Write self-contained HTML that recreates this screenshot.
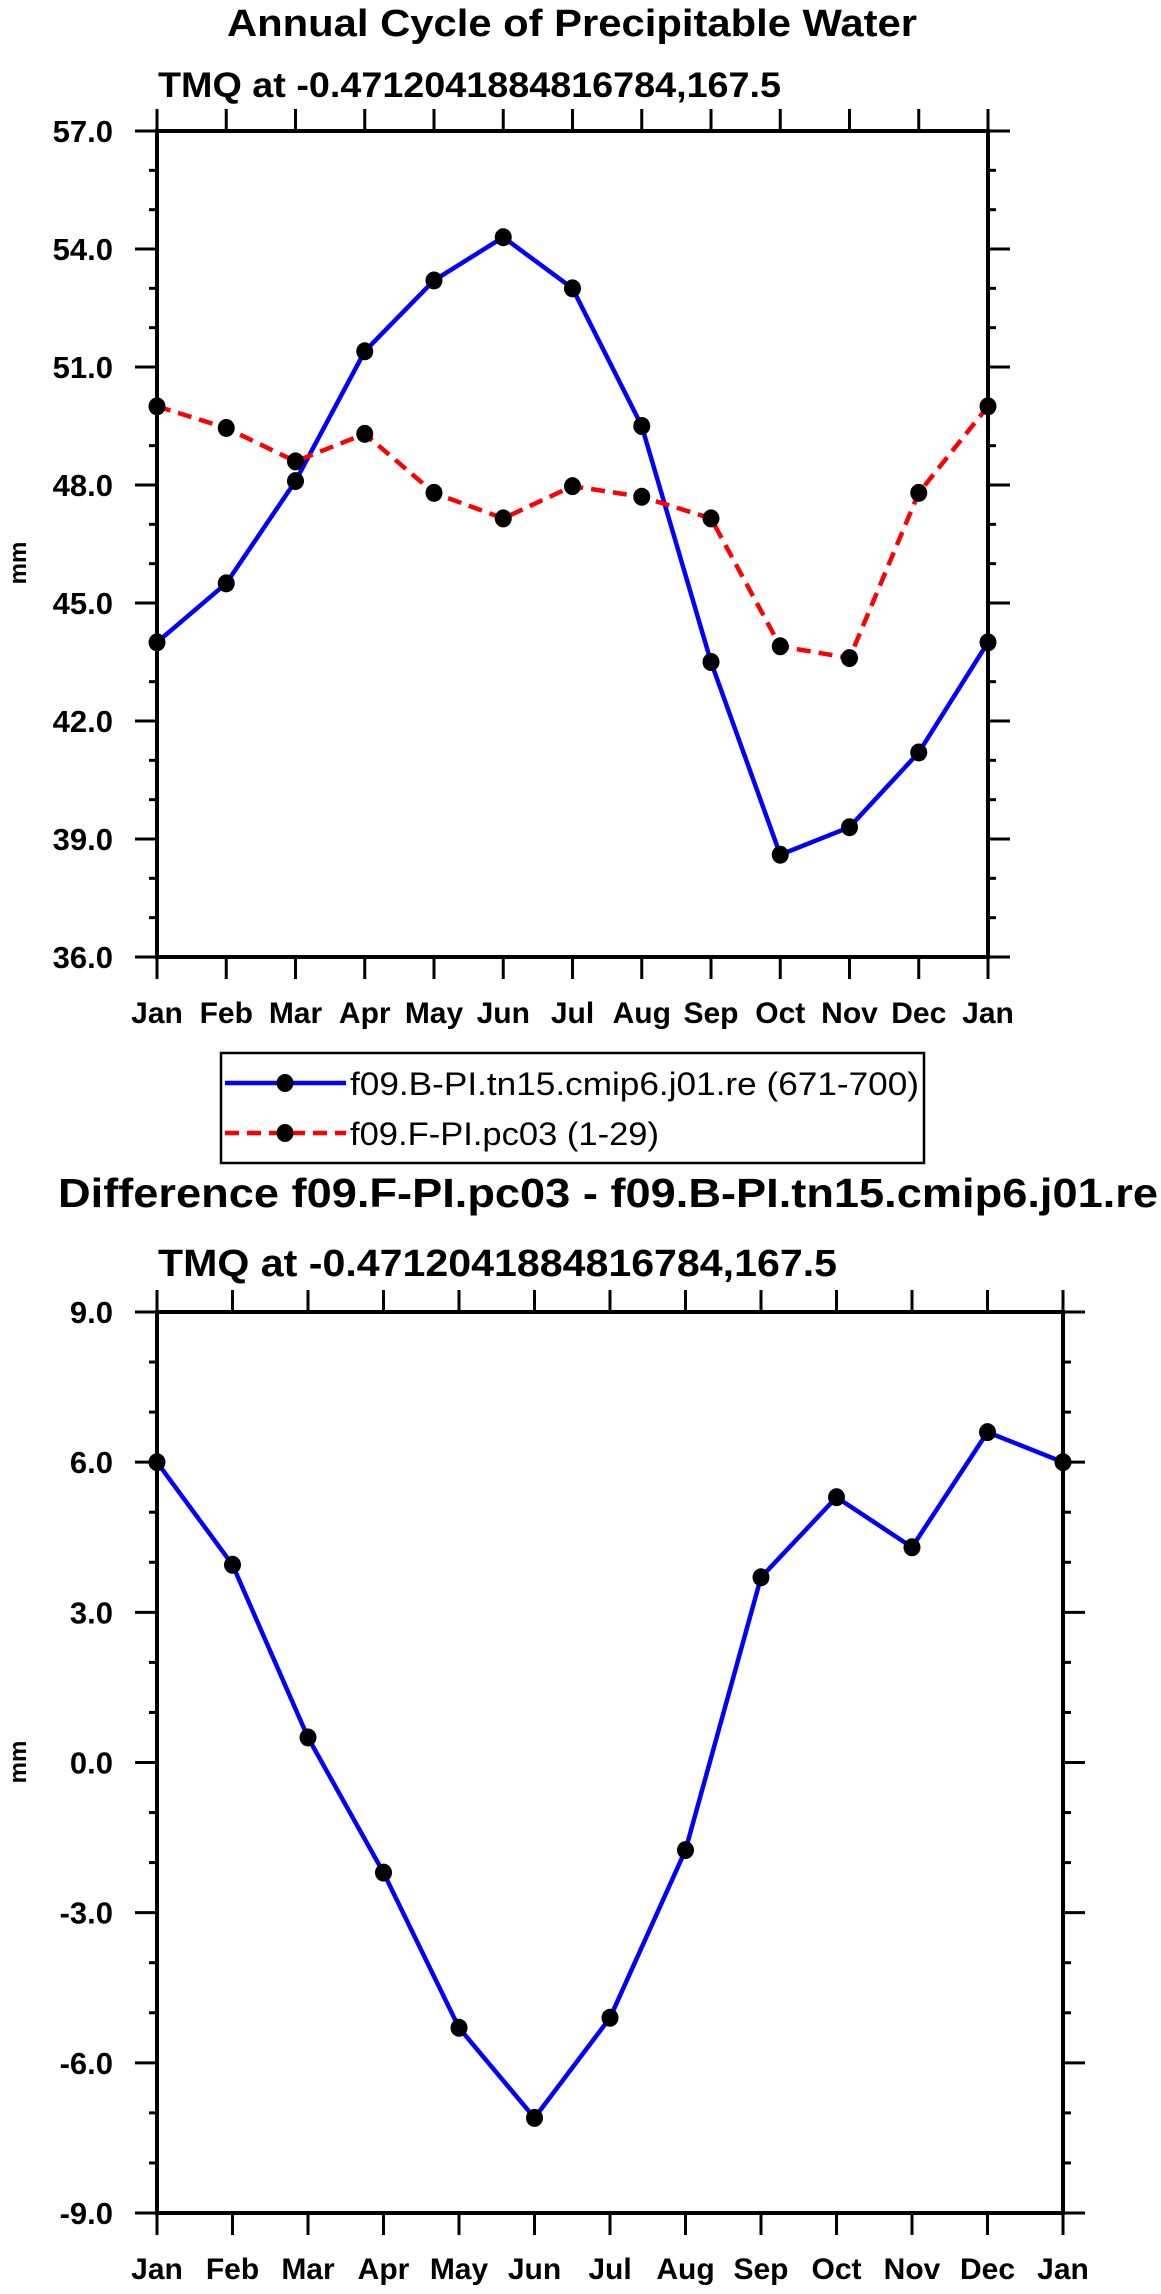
<!DOCTYPE html>
<html><head><meta charset="utf-8"><style>
html,body{margin:0;padding:0;background:#fff;}
svg{display:block;font-family:"Liberation Sans",Arial,sans-serif;}
</style></head><body>
<svg id="s" width="1161" height="2294" viewBox="0 0 1161 2294" xmlns="http://www.w3.org/2000/svg">
<text x="572" y="36" text-anchor="middle" font-size="38" font-weight="bold" textLength="690" lengthAdjust="spacingAndGlyphs">Annual Cycle of Precipitable Water</text>
<text x="158" y="97" font-size="35" font-weight="bold" textLength="623" lengthAdjust="spacingAndGlyphs">TMQ at -0.4712041884816784,167.5</text>
<text x="58" y="1207" font-size="41" font-weight="bold" textLength="1100" lengthAdjust="spacingAndGlyphs">Difference f09.F-PI.pc03 - f09.B-PI.tn15.cmip6.j01.re</text>
<text x="158" y="1276" font-size="38" font-weight="bold" textLength="679" lengthAdjust="spacingAndGlyphs">TMQ at -0.4712041884816784,167.5</text>
<g>
<rect x="221" y="1053" width="703" height="110" fill="none" stroke="#000" stroke-width="2.5"/>
<g>
<line x1="225" y1="1083" x2="346" y2="1083" stroke="#0000ff" stroke-width="4.5"/>
<ellipse cx="285" cy="1083" rx="8.5" ry="9" fill="#000"/>
<text x="350" y="1095" font-size="32" textLength="569" lengthAdjust="spacingAndGlyphs">f09.B-PI.tn15.cmip6.j01.re (671-700)</text>
</g>
<g>
<line x1="225" y1="1133" x2="346" y2="1133" stroke="#ff0000" stroke-width="4.5" stroke-dasharray="14,8"/>
<ellipse cx="285" cy="1133" rx="8.5" ry="9" fill="#000"/>
<text x="350" y="1145" font-size="32" textLength="309" lengthAdjust="spacingAndGlyphs">f09.F-PI.pc03 (1-29)</text>
</g>
</g>
</svg>
<script>
const months = ["Jan","Feb","Mar","Apr","May","Jun","Jul","Aug","Sep","Oct","Nov","Dec","Jan"];
const seriesB = [44.0,45.5,48.1,51.4,53.2,54.3,53.0,49.5,43.5,38.6,39.3,41.2,44.0];
const seriesF = [50.0,49.45,48.6,49.3,47.8,47.15,47.97,47.7,47.15,43.9,43.6,47.8,50.0];
const seriesDiff = [6.0,3.95,0.5,-2.2,-5.3,-7.1,-5.1,-1.75,3.7,5.3,4.3,6.6,6.0];
const topTicks = ["57.0","54.0","51.0","48.0","45.0","42.0","39.0","36.0"];
const botTicks = ["9.0","6.0","3.0","0.0","-3.0","-6.0","-9.0"];

const NS = "http://www.w3.org/2000/svg";
const svg = document.getElementById("s");
function mk(tag, attrs, parent){const e=document.createElementNS(NS,tag);for(const k in attrs)e.setAttribute(k,attrs[k]);(parent||svg).appendChild(e);return e;}

function panel(name, L, R, T, B, ymin, ymax, ticks, series, labelY){
  const g = mk("g",{});
  
  
  const xs = i => L + (R-L)*i/(months.length-1);
  const ys = v => B - (B-T)*(v-ymin)/(ymax-ymin);
  months.forEach((m,i)=>{
    const x = xs(i);
    mk("line",{x1:x,y1:T,x2:x,y2:T-22,stroke:"#000","stroke-width":3},g);
    mk("line",{x1:x,y1:B,x2:x,y2:B+22,stroke:"#000","stroke-width":3},g);
    const t = mk("text",{x:x,y:B+66,"text-anchor":"middle","font-size":30,"font-weight":"bold"},g);
    t.textContent = m;
    
    
  });
  for(let v=ymin; v<=ymax+1e-9; v+=1){
    const y = ys(v);
    const major = Math.abs((v-ymin)%3)<1e-9;
    const len = major?22:8;
    mk("line",{x1:L,y1:y,x2:L-len,y2:y,stroke:"#000","stroke-width":3},g);
    mk("line",{x1:R,y1:y,x2:R+len,y2:y,stroke:"#000","stroke-width":3},g);
  }
  const fr = mk("rect",{x:L,y:T,width:R-L,height:B-T,fill:"none",stroke:"#000","stroke-width":4},g);
  
  
  ticks.forEach(lbl=>{
    const y = ys(parseFloat(lbl));
    const t = mk("text",{x:L-44,y:y+11,"text-anchor":"end","font-size":31,"font-weight":"bold"},g);
    t.textContent = lbl;
    
    
  });
  const yl = mk("text",{x:0,y:0,"text-anchor":"middle","font-size":24,"font-weight":"bold",transform:`translate(26,${labelY}) rotate(-90)`},g);
  yl.textContent = "mm";
  
  
  series.forEach(s=>{
    const pts = s.data.map((v,i)=>xs(i)+","+ys(v)).join(" ");
    const pl = mk("polyline",{points:pts,fill:"none",stroke:s.color,"stroke-width":4.5,"stroke-dasharray":s.dash||"none","stroke-linejoin":"round"},g);
    
    
    s.data.forEach((v,i)=>{
      const c = mk("ellipse",{cx:xs(i),cy:ys(v),rx:8.5,ry:9,fill:"#000"},g);
      
      
    });
  });
}
panel("top-plot",157,988,131,957,36,57,topTicks,[
  {name:"series-b",data:seriesB,color:"#0000ff"},
  {name:"series-f",data:seriesF,color:"#ff0000",dash:"14,8"}
],563);
panel("difference-plot",157,1063,1312,2213,-9,9,botTicks,[
  {name:"difference",data:seriesDiff,color:"#0000ff"}
],1762);
</script>
</body></html>
